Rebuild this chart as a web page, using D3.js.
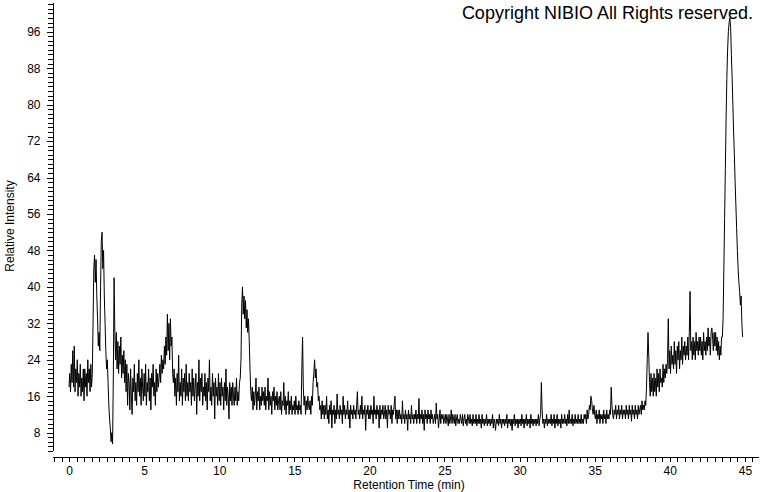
<!DOCTYPE html>
<html>
<head>
<meta charset="utf-8">
<script src="https://cdn.jsdelivr.net/npm/d3@7"></script>
<style>
  html, body { margin: 0; padding: 0; background: #fff; }
  svg { display: block; }
  text { font-family: "Liberation Sans", Arial, sans-serif; fill: #000; }
</style>
</head>
<body>
<svg id="chart" width="760" height="492"></svg>
<script>
// ---- data ----
const startTime = 0.0;    // min, first sample
const sampleStep = 0.05;  // min between samples
// Relative intensity, one row per minute (20 samples per row)
const intensity = [
  18, 21, 17, 23, 19, 26, 18, 27, 17, 22, 19, 24, 16, 21, 18, 23, 16, 20, 17, 22,      // 0
  15, 22, 18, 21, 16, 24, 19, 22, 17, 23, 18, 21, 32, 44, 47, 41, 46, 38, 33, 27,      // 1
  30, 26, 40, 50, 52, 44, 48, 38, 32, 26, 22, 24, 19, 14, 11, 9, 6, 8, 5.5, 20,        // 2
  42, 30, 24, 30, 22, 28, 21, 27, 23, 29, 20, 25, 21, 26, 19, 24, 17, 23, 14, 21,      // 3
  19, 13, 22, 16, 12, 20, 17, 23, 15, 19, 14, 21, 17, 24, 16, 20, 14, 22, 18, 15,      // 4
  21, 16, 23, 14, 19, 17, 22, 15, 20, 13, 21, 18, 23, 16, 19, 14, 22, 17, 21, 18,      // 5
  20, 23, 19, 25, 21, 24, 22, 27, 23, 29, 25, 34, 26, 32, 24, 33, 27, 29, 21, 19,      // 6
  22, 16, 20, 14, 21, 17, 25, 15, 19, 16, 22, 14, 20, 17, 21, 15, 23, 16, 19, 15,      // 7
  21, 17, 19, 14, 22, 16, 20, 15, 18, 21, 12, 19, 16, 24, 15, 20, 17, 21, 14, 18,      // 8
  16, 21, 15, 19, 13, 20, 17, 24, 15, 18, 14, 21, 16, 19, 11, 20, 16, 18, 14, 21,      // 9
  15, 19, 14, 20, 16, 18, 13, 19, 15, 22, 14, 18, 16, 11, 19, 15, 18, 14, 19, 16,      // 10
  14, 18, 15, 20, 14, 17, 15, 19, 20, 24, 36, 40, 34, 38, 33, 37, 31, 35, 30, 33,      // 11
  28, 22, 17, 15, 18, 13, 17, 14, 16, 20, 13, 17, 15, 18, 13, 16, 14, 18, 15, 17,      // 12
  14, 18, 13, 16, 15, 20, 13, 17, 14, 16, 12, 17, 15, 18, 13, 16, 14, 17, 13, 15,      // 13
  16, 13, 17, 12, 15, 14, 19, 13, 16, 12, 15, 14, 17, 12, 15, 13, 16, 12, 14, 13,      // 14
  15, 12, 16, 13, 14, 12, 15, 13, 14, 12, 22, 29, 18, 14, 16, 12, 15, 13, 16, 14,      // 15
  13, 15, 12, 16, 14, 19, 21, 24, 20, 22, 18, 19, 15, 16, 13, 14, 11, 15, 12, 14,      // 16
  11, 14, 12, 16, 11, 13, 10, 14, 12, 15, 9, 13, 12, 14, 10, 13, 11, 16.5, 12, 13,     // 17
  11, 14, 12, 13, 10, 16, 12, 14, 11, 13, 12, 15, 11, 13, 9, 14, 12, 13, 11, 14,       // 18
  12, 13, 11, 14, 17, 12, 13, 11, 14, 12, 16, 11, 13, 12, 14, 8.5, 13, 12, 14, 11,     // 19
  13, 11, 14, 12, 13, 10, 16, 12, 13, 11, 14, 12, 13, 9, 14, 11, 13, 12, 14, 11,       // 20
  12, 14, 11, 13, 9, 14, 12, 13, 11, 14, 10, 13, 12, 14, 16, 11, 13, 10, 13, 11,       // 21
  13, 11, 12, 10, 15, 11, 12, 10, 13, 11, 12, 8.5, 13, 11, 12, 10, 14, 11, 12, 10,     // 22
  12, 11, 13, 10, 12, 11, 15.5, 10, 12, 11, 13, 10, 12, 8.5, 13, 11, 12, 10, 13, 11,   // 23
  12, 10, 13, 11, 12, 10, 11, 12, 10, 14.5, 11, 12, 9, 11, 13, 10, 12, 11, 12, 10,     // 24
  11, 12, 10, 12, 11, 9.5, 12, 10, 11, 13, 10, 12, 11, 10, 12, 9.5, 11, 12, 10, 11,    // 25
  10, 12, 11, 10, 12, 9.5, 11, 12, 10, 11, 9.5, 12, 11, 10, 12, 10, 11, 9.5, 12, 10,   // 26
  11, 10, 12, 9.5, 11, 10, 12, 10, 11, 9, 12, 10, 11, 9.5, 11, 10, 12, 9.5, 11, 10,    // 27
  11, 9.5, 11, 10, 12, 9, 11, 10, 8.5, 11, 10, 11, 9.5, 12, 10, 11, 9, 11, 10, 11,     // 28
  9.5, 11, 10, 12, 9, 11, 10, 11, 9.5, 11, 8.5, 11, 10, 12, 9.5, 11, 10, 11, 9, 11,    // 29
  10, 11, 9.5, 12, 10, 11, 9, 11, 10, 12, 9.5, 11, 10, 11, 9, 12, 10, 11, 9.5, 11,     // 30
  10, 11, 9.5, 11, 10, 12, 9.5, 11, 12, 19, 13, 10, 11, 9, 11, 10, 12, 9.5, 11, 10,    // 31
  11, 10, 12, 9.5, 11, 10, 12, 9, 11, 10, 12, 9.5, 11, 10, 11, 9, 12, 10, 11, 10,      // 32
  12, 10, 11, 9.5, 12, 10, 13, 10, 11, 10, 12, 9.5, 11, 10, 12, 10, 11, 10, 12, 10,    // 33
  11, 10, 12, 10, 11, 10, 12, 11, 12, 10, 13, 11, 12, 14, 13, 16, 15, 13, 12, 14,      // 34
  12, 11, 13, 10, 12, 11, 13, 10, 12, 11, 12, 10, 13, 11, 12, 10, 13, 11, 12, 11,      // 35
  13, 12, 18, 14, 12, 11, 13, 12, 14, 11, 13, 12, 14, 11, 13, 12, 14, 11, 13, 12,      // 36
  13, 11, 14, 12, 13, 11, 14, 12, 13, 10.5, 14, 12, 13, 11, 14, 12, 13, 11, 14, 12,    // 37
  13, 14, 12, 15, 13, 14, 13, 15, 14, 18, 24, 30, 25, 19, 16, 21, 17, 20, 16, 21,      // 38
  17, 20, 16, 22, 18, 21, 17, 22, 19, 20, 18, 23, 19, 22, 20, 23, 21, 24, 33, 22,      // 39
  26, 21, 27, 23, 25, 22, 28, 23, 26, 21, 27, 24, 28, 22, 26, 24, 29, 23, 27, 25,      // 40
  28, 24, 27, 25, 29, 24, 30, 39, 26, 28, 24, 29, 25, 28, 24, 30, 26, 28, 25, 29,      // 41
  26, 29, 25, 28, 24, 30, 26, 28, 25, 29, 26, 31, 27, 29, 25, 30, 31, 29, 26, 30,      // 42
  27, 30, 26, 29, 25, 28, 24, 27, 25, 29, 29, 33, 44, 55, 66, 77, 86, 92, 96, 98,      // 43
  99, 97, 91, 86, 80, 74, 69, 63, 58, 53, 48, 44, 41, 39, 36, 38, 32, 29               // 44
];
const sampleTimes = intensity.map((_, i) => +(startTime + i * sampleStep).toFixed(2));

const xTickLabels = [0, 5, 10, 15, 20, 25, 30, 35, 40, 45];
const yTickLabels = [8, 16, 24, 32, 40, 48, 56, 64, 72, 80, 88, 96];
const xMinorStep = 0.5;
const yMinorStep = 1;

const xTitle = "Retention Time (min)";
const yTitle = "Relative Intensity";
const copyright = "Copyright NIBIO All Rights reserved.";

// ---- layout ----
const svg = d3.select("#chart");
const x = d3.scaleLinear().domain([-1.1, 45.9]).range([52.5, 758.4]);
const y = d3.scaleLinear().domain([4, 102.5]).range([450.9, 2.1]);
const xAxisY = 456.5;
const yAxisX = 52.5;

// x axis
const xTicks = d3.range(-1, 45.6, xMinorStep);
const xAxis = d3.axisBottom(x)
  .tickValues(xTicks)
  .tickSize(5)
  .tickSizeOuter(0)
  .tickPadding(5)
  .tickFormat(d => xTickLabels.includes(d) ? d : "");
const gx = svg.append("g")
  .attr("transform", `translate(0,${xAxisY})`)
  .call(xAxis);

// y axis
const yTicks = d3.range(4, 102.5, yMinorStep);
const yAxis = d3.axisLeft(y)
  .tickValues(yTicks)
  .tickSize(5)
  .tickSizeOuter(0)
  .tickPadding(7)
  .tickFormat(d => yTickLabels.includes(d) ? d : "");
const gy = svg.append("g")
  .attr("transform", `translate(${yAxisX},0)`)
  .call(yAxis);

[gx, gy].forEach(g => {
  g.selectAll("path, line").attr("stroke", "#000").attr("stroke-width", 1)
    .attr("shape-rendering", "crispEdges");
  g.selectAll("text").attr("font-size", 12)
    .attr("font-family", "'Liberation Sans', Arial, sans-serif").attr("fill", "#000");
});
gy.selectAll(".tick").filter(d => yTickLabels.includes(d)).select("line").attr("x2", -6);

// axis titles
svg.append("text")
  .attr("x", 409).attr("y", 488.5)
  .attr("text-anchor", "middle")
  .attr("font-size", 12)
  .text(xTitle);
svg.append("text")
  .attr("transform", "translate(13.5,226) rotate(-90)")
  .attr("text-anchor", "middle")
  .attr("font-size", 12)
  .text(yTitle);

// copyright
svg.append("text")
  .attr("x", 753).attr("y", 19)
  .attr("text-anchor", "end")
  .attr("font-size", 18)
  .text(copyright);

// trace
const line = d3.line()
  .x((d, i) => x(sampleTimes[i]))
  .y(d => y(d));
svg.append("path")
  .datum(intensity)
  .attr("fill", "none")
  .attr("stroke", "#000")
  .attr("stroke-width", 1)
  .attr("d", line);
</script>
</body>
</html>
